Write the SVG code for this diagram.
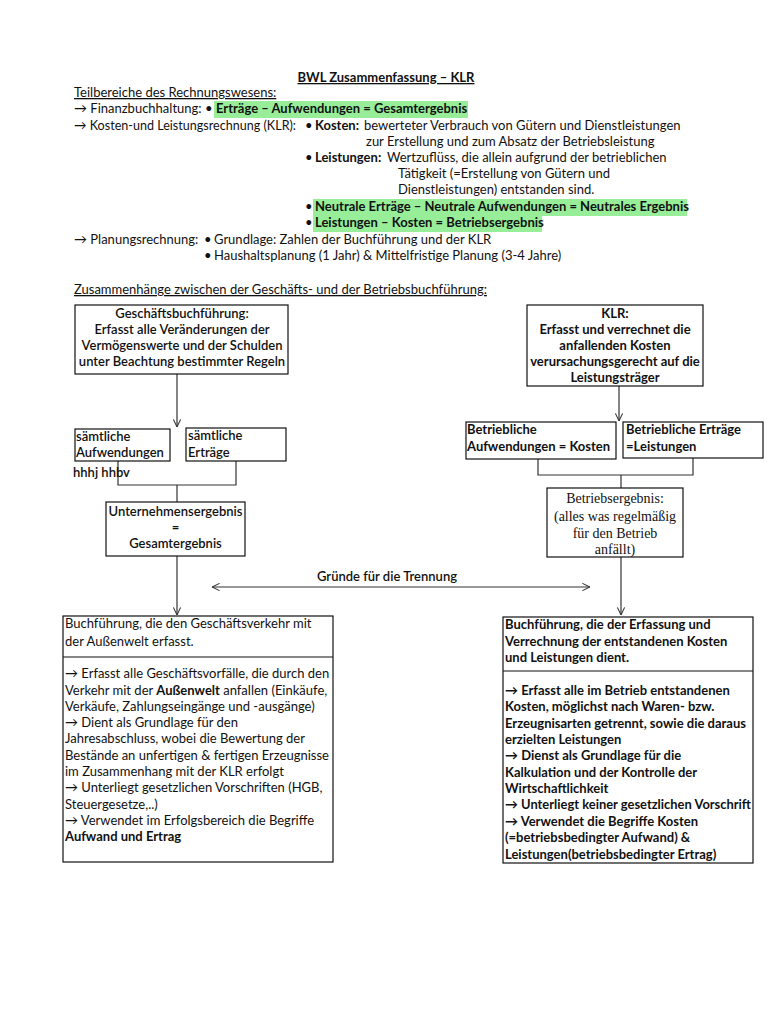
<svg xmlns="http://www.w3.org/2000/svg" width="768" height="1024" viewBox="0 0 768 1024">
<style>
text{font-family:Lato,"Noto Sans","Liberation Sans",sans-serif;font-size:13px;fill:#111}
.b{font-weight:700}
.sb{font-weight:600}
.u{text-decoration:underline}
.c{text-anchor:middle}
.serif{font-family:"Liberation Serif","Times New Roman",serif;font-size:14px;font-weight:400}
.box{fill:#fff;stroke:#111;stroke-width:1.2}
.hl{fill:#98ee98}
.con{fill:none;stroke:#333;stroke-width:1.2}
</style>
<defs>
<marker id="ah" viewBox="0 0 10 10" refX="9.5" refY="5" markerWidth="8" markerHeight="8" orient="auto-start-reverse" markerUnits="userSpaceOnUse"><path d="M0,0.5 L9.5,5 L0,9.5" fill="none" stroke="#333" stroke-width="1.3"/></marker>
</defs>
<rect width="768" height="1024" fill="#fff"/>

<g id="header">
<text x="386" y="82" class="b u c">BWL Zusammenfassung – KLR</text>
<text x="74" y="97" class="u">Teilbereiche des Rechnungswesens:</text>
<rect class="hl" x="214" y="101" width="254" height="17"/>
<text x="74" y="113">→ Finanzbuchhaltung: <tspan x="205">•</tspan><tspan x="216" class="b">Erträge – Aufwendungen = Gesamtergebnis</tspan></text>
<text x="74" y="130" textLength="222" lengthAdjust="spacingAndGlyphs">→ Kosten-und Leistungsrechnung (KLR):</text>
<text x="305" y="130">•<tspan x="315" class="b">Kosten:</tspan><tspan x="364">bewerteter Verbrauch von Gütern und Dienstleistungen</tspan></text>
<text x="366" y="146">zur Erstellung und zum Absatz der Betriebsleistung</text>
<text x="305" y="162">• <tspan x="315" class="b">Leistungen:</tspan><tspan x="387">Wertzuflüss, die allein aufgrund der betrieblichen</tspan></text>
<text x="398" y="178">Tätigkeit (=Erstellung von Gütern und</text>
<text x="398" y="194">Dienstleistungen) entstanden sind.</text>
<rect class="hl" x="313" y="199" width="374" height="17"/>
<text x="305" y="211">• <tspan x="315" class="b">Neutrale Erträge – Neutrale Aufwendungen = Neutrales Ergebnis</tspan></text>
<rect class="hl" x="313" y="216" width="229" height="16"/>
<text x="305" y="227">• <tspan x="315" class="b">Leistungen – Kosten = Betriebsergebnis</tspan></text>
<text x="74" y="244">→ Planungsrechnung: <tspan x="204">•</tspan><tspan x="214">Grundlage: Zahlen der Buchführung und der KLR</tspan></text>
<text x="204" y="260">• <tspan x="214">Haushaltsplanung (1 Jahr) &amp; Mittelfristige Planung (3-4 Jahre)</tspan></text>
<text x="74" y="294" class="u">Zusammenhänge zwischen der Geschäfts- und der Betriebsbuchführung:</text>
</g>

<g id="connectors">
<line class="con" x1="177" y1="374" x2="177" y2="427" marker-end="url(#ah)"/>
<polyline class="con" points="118,461 118,485 236,485 236,461"/>
<line class="con" x1="177" y1="485" x2="177" y2="502"/>
<line class="con" x1="177" y1="556" x2="177" y2="615" marker-end="url(#ah)"/>
<line class="con" x1="619" y1="386" x2="619" y2="421" marker-end="url(#ah)"/>
<polyline class="con" points="538,459 538,475 693,475 693,458"/>
<line class="con" x1="621" y1="475" x2="621" y2="488"/>
<line class="con" x1="621" y1="557" x2="621" y2="615" marker-end="url(#ah)"/>
<line class="con" x1="212" y1="587" x2="590" y2="587" marker-start="url(#ah)" marker-end="url(#ah)"/>
</g>

<g id="geschaeftsbuchfuehrung">
<rect class="box" x="75" y="305" width="213" height="69"/>
<text x="182" y="318" class="sb c">Geschäftsbuchführung:</text>
<text x="182" y="334" class="sb c">Erfasst alle Veränderungen der</text>
<text x="182" y="350" class="sb c">Vermögenswerte und der Schulden</text>
<text x="182" y="366" class="sb c">unter Beachtung bestimmter Regeln</text>
</g>

<g id="aufwendungen">
<rect class="box" x="75" y="429" width="95" height="32"/>
<text x="76" y="441" class="sb">sämtliche</text>
<text x="76" y="457" class="sb">Aufwendungen</text>
<text x="73" y="477" class="sb">hhhj hhbv</text>
</g>

<g id="ertraege">
<rect class="box" x="186" y="428" width="100" height="33"/>
<text x="188" y="440" class="sb">sämtliche</text>
<text x="188" y="457" class="sb">Erträge</text>
</g>

<g id="unternehmensergebnis">
<rect class="box" x="106" y="502" width="139" height="54"/>
<text x="175.5" y="516" class="sb c">Unternehmensergebnis</text>
<text x="175.5" y="532" class="sb c">=</text>
<text x="175.5" y="548" class="sb c">Gesamtergebnis</text>
</g>

<g id="klr">
<rect class="box" x="527" y="305" width="176" height="81"/>
<text x="615" y="318" class="b c">KLR:</text>
<text x="615" y="334" class="b c">Erfasst und verrechnet die</text>
<text x="615" y="350" class="b c">anfallenden Kosten</text>
<text x="615" y="366" class="b c">verursachungsgerecht auf die</text>
<text x="615" y="382" class="b c">Leistungsträger</text>
</g>

<g id="betriebliche-aufwendungen">
<rect class="box" x="466" y="422" width="150" height="37"/>
<text x="467" y="434" class="b">Betriebliche</text>
<text x="467" y="451" class="b">Aufwendungen = Kosten</text>
</g>

<g id="betriebliche-ertraege">
<rect class="box" x="623" y="422" width="140" height="36"/>
<text x="626" y="434" class="b">Betriebliche Erträge</text>
<text x="626" y="451" class="b">=Leistungen</text>
</g>

<g id="betriebsergebnis">
<rect class="box" x="547" y="488" width="136" height="69"/>
<text x="615" y="503" class="serif c">Betriebsergebnis:</text>
<text x="615" y="521" class="serif c">(alles was regelmäßig</text>
<text x="615" y="538" class="serif c">für den Betrieb</text>
<text x="615" y="554" class="serif c">anfällt)</text>
</g>

<g id="gruende">
<text x="387" y="581" class="sb c">Gründe für die Trennung</text>
</g>

<g id="geschaeftsbuchfuehrung-detail">
<rect class="box" x="63" y="616" width="270" height="246"/>
<line x1="63" y1="657" x2="333" y2="657" stroke="#111" stroke-width="1.2"/>
<text x="65" y="628">Buchführung, die den Geschäftsverkehr mit</text>
<text x="65" y="646">der Außenwelt erfasst.</text>
<text x="65" y="678">→ Erfasst alle Geschäftsvorfälle, die durch den</text>
<text x="65" y="695">Verkehr mit der <tspan class="b">Außenwelt</tspan> anfallen (Einkäufe,</text>
<text x="65" y="711">Verkäufe, Zahlungseingänge und -ausgänge)</text>
<text x="65" y="727">→ Dient als Grundlage für den</text>
<text x="65" y="743">Jahresabschluss, wobei die Bewertung der</text>
<text x="65" y="760">Bestände an unfertigen &amp; fertigen Erzeugnisse</text>
<text x="65" y="776">im Zusammenhang mit der KLR erfolgt</text>
<text x="65" y="792">→ Unterliegt gesetzlichen Vorschriften (HGB,</text>
<text x="65" y="809">Steuergesetze,..)</text>
<text x="65" y="825">→ Verwendet im Erfolgsbereich die Begriffe</text>
<text x="65" y="841" class="b">Aufwand und Ertrag</text>
</g>

<g id="klr-detail">
<rect class="box" x="503" y="617" width="250" height="246"/>
<line x1="503" y1="671" x2="753" y2="671" stroke="#111" stroke-width="1.2"/>
<text x="505" y="629" class="b">Buchführung, die der Erfassung und</text>
<text x="505" y="646" class="b">Verrechnung der entstandenen Kosten</text>
<text x="505" y="662" class="b">und Leistungen dient.</text>
<text x="505" y="695" class="b">→ Erfasst alle im Betrieb entstandenen</text>
<text x="505" y="711" class="b">Kosten, möglichst nach Waren- bzw.</text>
<text x="505" y="728" class="b">Erzeugnisarten getrennt, sowie die daraus</text>
<text x="505" y="744" class="b">erzielten Leistungen</text>
<text x="505" y="760" class="b">→ Dienst als Grundlage für die</text>
<text x="505" y="777" class="b">Kalkulation und der Kontrolle der</text>
<text x="505" y="793" class="b">Wirtschaftlichkeit</text>
<text x="505" y="809" class="b" textLength="246" lengthAdjust="spacingAndGlyphs">→ Unterliegt keiner gesetzlichen Vorschrift</text>
<text x="505" y="826" class="b">→ Verwendet die Begriffe Kosten</text>
<text x="505" y="842" class="b">(=betriebsbedingter Aufwand) &amp;</text>
<text x="505" y="859" class="b">Leistungen(betriebsbedingter Ertrag)</text>
</g>
</svg>
